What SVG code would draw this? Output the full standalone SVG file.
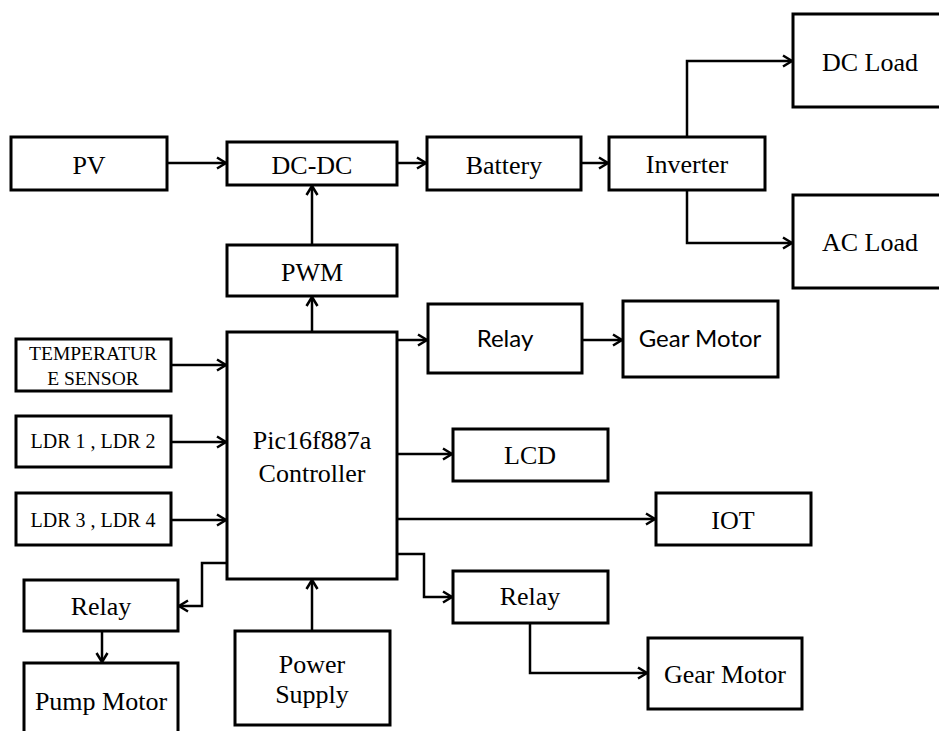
<svg xmlns="http://www.w3.org/2000/svg" width="939" height="731" viewBox="0 0 939 731">
<style>
.box{fill:#fff;stroke:#000;stroke-width:3}
.tx{font-family:'Liberation Serif',serif;font-size:26px;fill:#000;text-anchor:middle}
.sm{font-family:'Liberation Serif',serif;font-size:20px;fill:#000;text-anchor:middle}
.ca{font-family:Lato,'Liberation Sans',sans-serif;font-size:24px;fill:#000;text-anchor:middle}
.w{fill:none;stroke:#000;stroke-width:2.5;marker-end:url(#ah)}
</style>
<defs>
<marker id="ah" markerUnits="userSpaceOnUse" markerWidth="14" markerHeight="14" refX="10" refY="6" orient="auto" overflow="visible">
<path d="M1,0.5 L10,6 L1,11.5" fill="none" stroke="#000" stroke-width="2.5"/>
</marker>
</defs>
<rect width="939" height="731" fill="#fff"/>
<g id="connectors">
<path class="w" d="M167,163 H226"/>
<path class="w" d="M397,163 H426"/>
<path class="w" d="M581,163 H608"/>
<path class="w" d="M687,137 V61 H792"/>
<path class="w" d="M687,190 V243 H792"/>
<path class="w" d="M312,245 V186"/>
<path class="w" d="M312,332 V297"/>
<path class="w" d="M397,340 H427"/>
<path class="w" d="M582,340 H622"/>
<path class="w" d="M171,365 H226"/>
<path class="w" d="M171,442 H226"/>
<path class="w" d="M171,520 H226"/>
<path class="w" d="M397,454 H452"/>
<path class="w" d="M397,519 H655"/>
<path class="w" d="M397,554 H424 V597 H452"/>
<path class="w" d="M530,623 V673 H647"/>
<path class="w" d="M227,563 H202 V606 H179"/>
<path class="w" d="M102,631 V662"/>
<path class="w" d="M312,631 V580"/>
</g>
<g font-family="Liberation Serif, serif">
<g id="pv"><rect class="box" x="11" y="137" width="156" height="53"/><text class="tx" x="89" y="174" font-family="Liberation Serif, serif">PV</text></g>
<g id="dcdc"><rect class="box" x="227" y="142" width="170" height="43"/><text class="tx" x="312" y="174" font-family="Liberation Serif, serif">DC-DC</text></g>
<g id="battery"><rect class="box" x="427" y="137" width="154" height="53"/><text class="tx" x="504" y="174" font-family="Liberation Serif, serif">Battery</text></g>
<g id="inverter"><rect class="box" x="609" y="137" width="156" height="53"/><text class="tx" x="687" y="173" font-family="Liberation Serif, serif">Inverter</text></g>
<g id="dcload"><rect class="box" x="793" y="14" width="160" height="93"/><text class="tx" x="870" y="71" font-family="Liberation Serif, serif">DC Load</text></g>
<g id="acload"><rect class="box" x="793" y="195" width="160" height="93"/><text class="tx" x="870" y="251" font-family="Liberation Serif, serif">AC Load</text></g>
<g id="pwm"><rect class="box" x="227" y="245" width="170" height="51"/><text class="tx" x="312" y="281" font-family="Liberation Serif, serif">PWM</text></g>
<g id="controller"><rect class="box" x="227" y="332" width="170" height="247"/><text class="tx" x="312" y="449" font-family="Liberation Serif, serif">Pic16f887a</text><text class="tx" x="312" y="482" font-family="Liberation Serif, serif">Controller</text></g>
<g id="relay1"><rect class="box" x="428" y="304" width="154" height="69"/><text class="ca" x="505" y="347">Relay</text></g>
<g id="gearmotor1"><rect class="box" x="623" y="301" width="155" height="76"/><text class="ca" x="700" y="347">Gear Motor</text></g>
<g id="temp"><rect class="box" x="16" y="339" width="155" height="52"/><text class="sm" x="93" y="360" style="font-size:19.5px">TEMPERATUR</text><text class="sm" x="93" y="385" style="font-size:19.5px">E SENSOR</text></g>
<g id="ldr12"><rect class="box" x="16" y="416" width="155" height="51"/><text class="sm" x="93" y="448">LDR 1 , LDR 2</text></g>
<g id="ldr34"><rect class="box" x="16" y="493" width="155" height="52"/><text class="sm" x="93" y="527">LDR 3 , LDR 4</text></g>
<g id="lcd"><rect class="box" x="453" y="429" width="155" height="52"/><text class="tx" x="530" y="464" font-family="Liberation Serif, serif">LCD</text></g>
<g id="iot"><rect class="box" x="656" y="493" width="155" height="52"/><text class="tx" x="733" y="529" font-family="Liberation Serif, serif">IOT</text></g>
<g id="relay2"><rect class="box" x="453" y="571" width="155" height="52"/><text class="tx" x="530" y="605" font-family="Liberation Serif, serif">Relay</text></g>
<g id="gearmotor2"><rect class="box" x="648" y="638" width="154" height="71"/><text class="tx" x="725" y="683" font-family="Liberation Serif, serif">Gear Motor</text></g>
<g id="relay3"><rect class="box" x="24" y="580" width="154" height="51"/><text class="tx" x="101" y="615" font-family="Liberation Serif, serif">Relay</text></g>
<g id="pump"><rect class="box" x="24" y="663" width="154" height="90"/><text class="tx" x="101" y="710" font-family="Liberation Serif, serif">Pump Motor</text></g>
<g id="power"><rect class="box" x="235" y="631" width="155" height="94"/><text class="tx" x="312" y="673" font-family="Liberation Serif, serif">Power</text><text class="tx" x="312" y="703" font-family="Liberation Serif, serif">Supply</text></g>
</g>
</svg>
